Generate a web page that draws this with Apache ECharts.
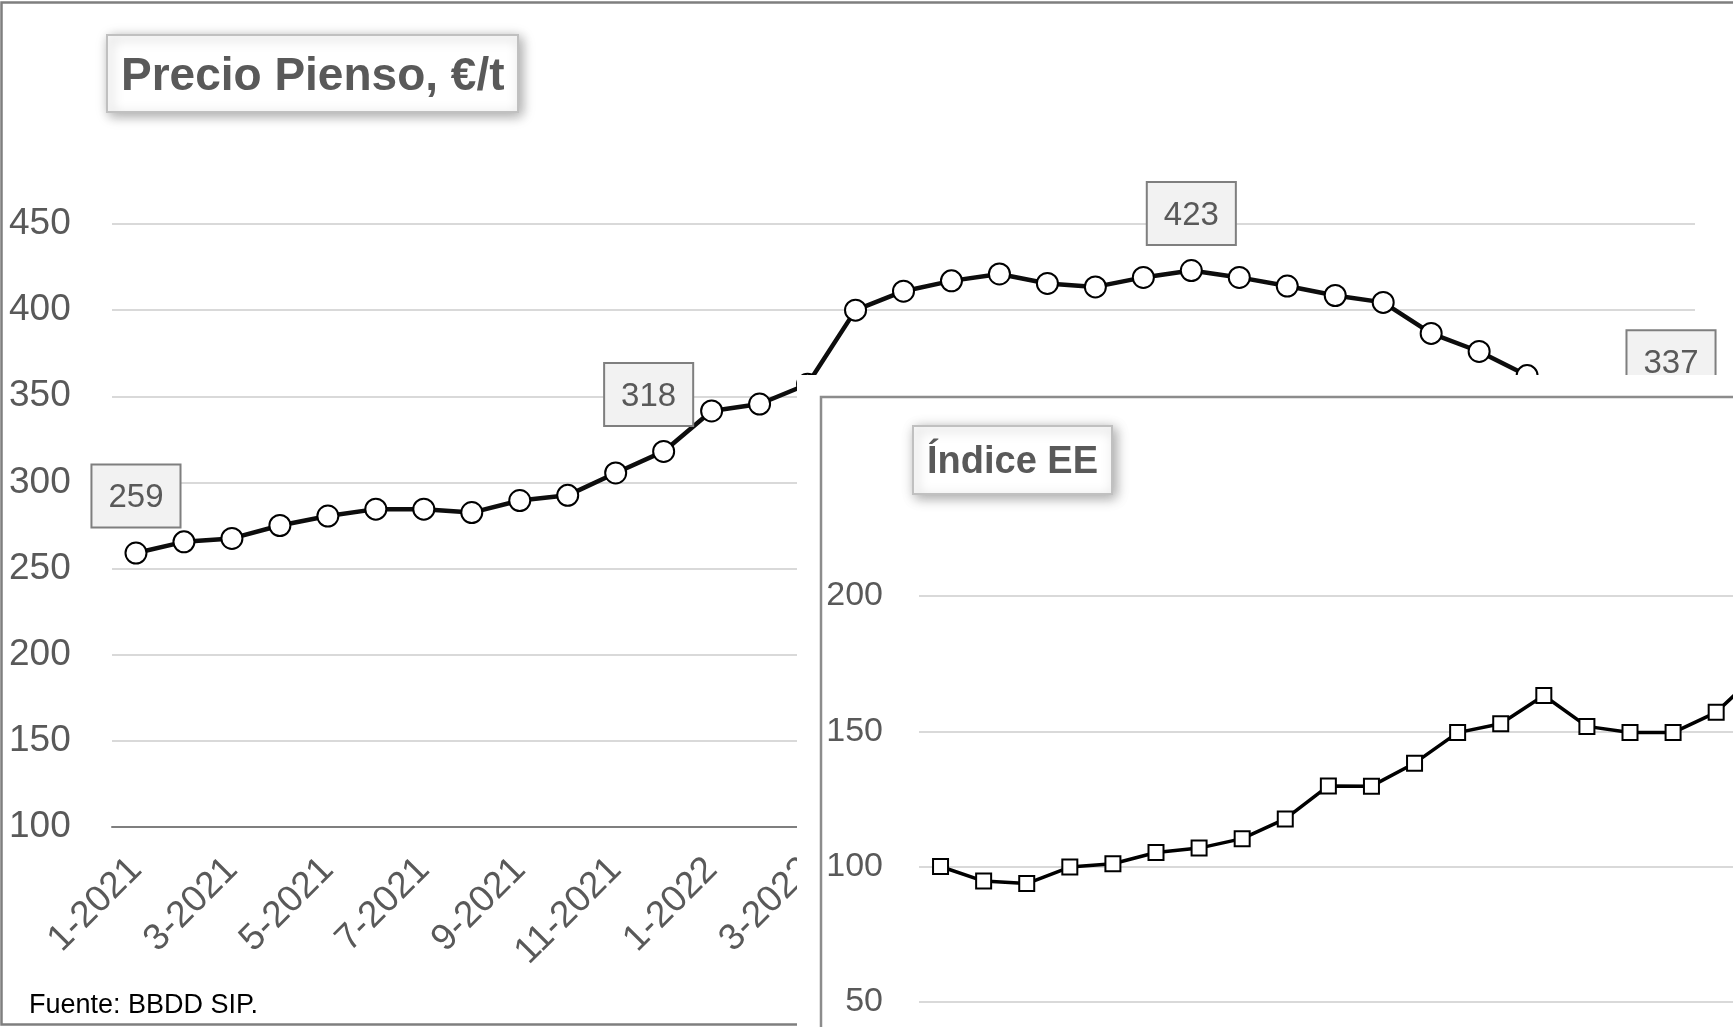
<!DOCTYPE html>
<html>
<head>
<meta charset="utf-8">
<script src="https://cdn.jsdelivr.net/npm/echarts@6/dist/echarts.min.js"></script>
<style>
html, body { margin: 0; padding: 0; background: #fff; }
#chart { width: 1733px; height: 1027px; }
</style>
</head>
<body>
<div id="chart"></div>
<script>
var FONT = "'Liberation Sans', Arial, sans-serif";

// meses 1-2021 .. 9-2023
var months = ['1-2021','2-2021','3-2021','4-2021','5-2021','6-2021','7-2021','8-2021','9-2021','10-2021','11-2021','12-2021',
              '1-2022','2-2022','3-2022','4-2022','5-2022','6-2022','7-2022','8-2022','9-2022','10-2022','11-2022','12-2022',
              '1-2023','2-2023','3-2023','4-2023','5-2023','6-2023','7-2023','8-2023','9-2023'];

// Precio pienso, €/t (30 y 31 quedan tapados por el recuadro)
var pienso = [259, 265.5, 267.5, 275, 280.5, 284.5, 284.5, 282.5, 289.5, 292.5, 305.5, 318,
              341.5, 345.5, 357, 400, 411, 417, 421, 415.5, 413.5, 419, 423, 419,
              414, 408.5, 404.5, 386.5, 376, 362, null, null, 337];
var piensoLabelIdx = [0, 11, 22, 32];

// Indice EE (base 100 = 1-2021), solo la parte visible
var indiceEE = [100, 94.6, 93.7, 99.8, 101, 105.2, 106.8, 110.3, 117.6, 129.8, 129.7, 138.2,
                149.5, 152.8, 163.2, 151.8, 149.5, 149.5, 157, 172];

var pData = pienso.map(function (v, i) {
	if (piensoLabelIdx.indexOf(i) < 0) return v;
	return { value: v, label: { show: true, offset: i === 11 ? [-15, 0] : [0, 0] } };
});

var chart = echarts.init(document.getElementById('chart'));
chart.setOption({
	animation: false,
	textStyle: { fontFamily: FONT },
	title: [{
		text: 'Precio Pienso, €/t',
		left: 107, top: 35,
		padding: [19, 14, 12, 14],
		backgroundColor: '#fff',
		borderColor: '#c0c0c0', borderWidth: 2,
		shadowColor: 'rgba(0,0,0,0.35)', shadowBlur: 12, shadowOffsetX: 3, shadowOffsetY: 3,
		textStyle: { fontFamily: FONT, fontSize: 46, lineHeight: 46, fontWeight: 'bold', color: '#595959' },
		z: 6
	}, {
		text: 'Índice EE',
		left: 913, top: 426,
		padding: [18, 14, 12, 14],
		backgroundColor: '#fff',
		borderColor: '#c0c0c0', borderWidth: 2,
		shadowColor: 'rgba(0,0,0,0.35)', shadowBlur: 12, shadowOffsetX: 3, shadowOffsetY: 3,
		textStyle: { fontFamily: FONT, fontSize: 38, lineHeight: 38, fontWeight: 'bold', color: '#595959' },
		z: 30
	}],
	grid: [
		{ left: 112, top: 224, width: 1583, height: 603, outerBoundsMode: 'none' },
		{ left: 919, top: 596, width: 1422, height: 541, z: 11, outerBoundsMode: 'none' }
	],
	xAxis: [{
		type: 'category', gridIndex: 0, data: months,
		axisLine: { lineStyle: { color: '#7f7f7f', width: 2 } },
		axisTick: { show: false },
		axisLabel: { interval: 1, rotate: 45, margin: 37, fontSize: 37, color: '#595959', fontFamily: FONT }
	}, {
		type: 'category', gridIndex: 1, data: months, z: 11,
		axisLine: { show: false }, axisTick: { show: false }, axisLabel: { show: false }
	}],
	yAxis: [{
		type: 'value', gridIndex: 0, min: 100, max: 450, interval: 50,
		axisLine: { show: false }, axisTick: { show: false },
		axisLabel: { fontSize: 37, color: '#595959', align: 'left', margin: 103, fontFamily: FONT },
		splitLine: { lineStyle: { color: '#d9d9d9', width: 2 } }
	}, {
		type: 'value', gridIndex: 1, min: 0, max: 200, interval: 50, z: 11,
		axisLine: { show: false }, axisTick: { show: false },
		axisLabel: { fontSize: 34, color: '#595959', margin: 36, fontFamily: FONT },
		splitLine: { lineStyle: { color: '#d9d9d9', width: 2 } }
	}],
	series: [{
		type: 'line', xAxisIndex: 0, yAxisIndex: 0, z: 2,
		data: pData,
		symbol: 'circle', symbolSize: 21, showAllSymbol: true,
		lineStyle: { color: '#0d0d0d', width: 4.5 },
		itemStyle: { color: '#fff', borderColor: '#000', borderWidth: 2 },
		label: {
			show: false, position: 'top', distance: 15,
			backgroundColor: '#f2f2f2', borderColor: '#7f7f7f', borderWidth: 2,
			padding: [16, 16, 12, 16], fontSize: 33, lineHeight: 33, color: '#595959', fontFamily: FONT
		},
		emphasis: { disabled: true }
	}, {
		type: 'line', xAxisIndex: 1, yAxisIndex: 1, z: 12,
		data: indiceEE,
		symbol: 'rect', symbolSize: 15, showAllSymbol: true,
		lineStyle: { color: '#000', width: 3.5 },
		itemStyle: { color: '#fff', borderColor: '#000', borderWidth: 2 },
		emphasis: { disabled: true }
	}],
	graphic: [
		{ type: 'rect', z: 1, silent: true, shape: { x: 1.5, y: 2.5, width: 1800, height: 1022 },
		  style: { fill: 'none', stroke: '#7f7f7f', lineWidth: 2.5 } },
		{ type: 'text', z: 1, silent: true, x: 29, y: 992,
		  style: { text: 'Fuente: BBDD SIP.', fill: '#000', font: '27px ' + FONT } },
		{ type: 'rect', z: 10, silent: true, shape: { x: 797, y: 375, width: 1000, height: 700 },
		  style: { fill: '#fff' } },
		{ type: 'rect', z: 10, silent: true, shape: { x: 821, y: 397, width: 1000, height: 700 },
		  style: { fill: '#fff', stroke: '#8c8c8c', lineWidth: 2.5 } }
	]
});
</script>
</body>
</html>
